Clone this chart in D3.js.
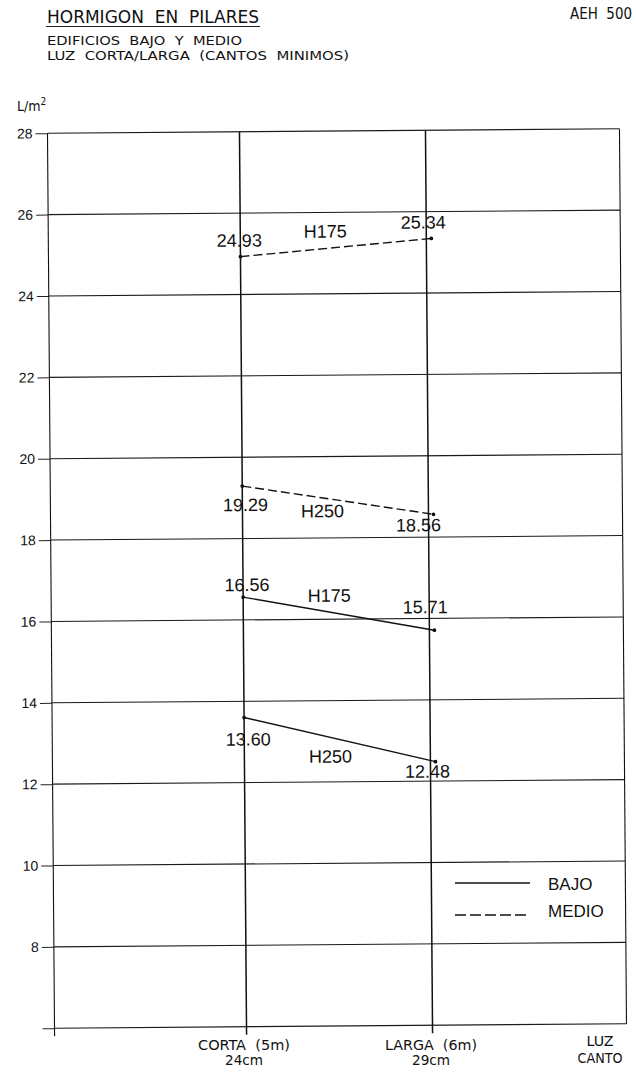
<!DOCTYPE html>
<html>
<head>
<meta charset="utf-8">
<script src="https://cdn.jsdelivr.net/npm/d3@7"></script>
<style>
  body { margin: 0; background: white; }
  svg { display: block; }
  text { white-space: pre; }
  .cad { font-family: "DejaVu Sans Condensed", "Liberation Sans Narrow", "Liberation Sans", sans-serif; }
  .num { font-family: "Liberation Sans", Arial, sans-serif; }
</style>
</head>
<body>
<div id="chart"></div>
<script>
// categories along the x axis
const categories = ["CORTA", "LARGA"];
const catLabels = [["CORTA  (5m)", "24cm"], ["LARGA  (6m)", "29cm"]];
const yTicks = [28, 26, 24, 22, 20, 18, 16, 14, 12, 10, 8];

// series: building type + concrete grade
const seriesType = ["MEDIO", "MEDIO", "BAJO", "BAJO"];
const seriesTag = ["H175", "H250", "H175", "H250"];
const medioH175 = [24.93, 25.34];
const medioH250 = [19.29, 18.56];
const bajoH175 = [16.56, 15.71];
const bajoH250 = [13.60, 12.48];
const allValues = [medioH175, medioH250, bajoH175, bajoH250];

const width = 636, height = 1080;

const svg = d3.select("#chart").append("svg")
    .attr("width", width)
    .attr("height", height);

// helper for the CAD style lettering, stretched to the drawn width
function cadText(g, tx, ty, size, str, len, anchor) {
    const t = g.append("text").attr("class", "cad")
        .attr("x", tx).attr("y", ty)
        .style("font-size", size + "px")
        .attr("fill", "#111")
        .attr("text-anchor", anchor || "start")
        .text(str);
    if (len) t.attr("textLength", len).attr("lengthAdjust", "spacingAndGlyphs");
    return t;
}

// titles
cadText(svg, 47, 23, 17.5, "HORMIGON  EN  PILARES", 212);
svg.append("line")
    .attr("x1", 46).attr("x2", 260).attr("y1", 26.5).attr("y2", 26.5)
    .attr("stroke", "#222").attr("stroke-width", 1);
cadText(svg, 632, 19, 15.5, "AEH  500", 62, "end");
cadText(svg, 47, 45, 12.5, "EDIFICIOS  BAJO  Y  MEDIO", 195);
cadText(svg, 47, 60, 12.5, "LUZ  CORTA/LARGA  (CANTOS  MINIMOS)", 302);

// y unit
const unit = cadText(svg, 17, 111, 14, "L/m");
unit.append("tspan").attr("dy", -6).style("font-size", "10px").text("2");

// the scanned sheet is a little rotated: chart body goes in a rotated group
const g = svg.append("g").attr("transform", "rotate(-0.45,337,580)");

// 0 = axis, 1 = corta, 2 = larga, 3 = right border
const x = d3.scaleLinear().domain([0, 1, 2, 3]).range([51, 243, 429, 623]);
const y = d3.scaleLinear().domain([6, 28]).range([1026, 131]);

// y axis with ticks
const yAxis = d3.axisLeft(y)
    .tickValues(yTicks.concat([6]))
    .tickSize(12)
    .tickPadding(3)
    .tickFormat(d => d === 6 ? "" : d);
g.append("g")
    .attr("transform", "translate(" + x(0) + ",0)")
    .call(yAxis)
    .call(s => s.select(".domain").remove())
    .call(s => s.selectAll("text").attr("class", "num").style("font-size", "14px").attr("fill", "#111"))
    .call(s => s.selectAll("line").attr("stroke", "#222"));

// horizontal grid
g.append("g").selectAll("line")
    .data(yTicks.concat([6]))
    .enter().append("line")
    .attr("x1", x(0))
    .attr("x2", x(3))
    .attr("y1", d => y(d))
    .attr("y2", d => y(d))
    .attr("stroke", "#1a1a1a")
    .attr("stroke-width", 1.1);

// vertical lines
g.append("g").selectAll("line")
    .data([0, 1, 2, 3])
    .enter().append("line")
    .attr("x1", d => x(d))
    .attr("x2", d => x(d))
    .attr("y1", y(28))
    .attr("y2", d => d === 3 ? y(6) : y(6) + 8)
    .attr("stroke", "#111")
    .attr("stroke-width", d => d === 0 || d === 3 ? 1.1 : 1.5);

// series lines, larga point sits just right of the grid line
const px = i => x(i + 1) + (i === 1 ? 5 : 0);
const line = d3.line()
    .x((d, i) => px(i))
    .y(d => y(d));

allValues.forEach(function(vals, k) {
    g.append("path")
        .datum(vals)
        .attr("d", line)
        .attr("fill", "none")
        .attr("stroke", "#111")
        .attr("stroke-width", 1.4)
        .attr("stroke-dasharray", seriesType[k] === "MEDIO" ? "9,4" : null);
    g.selectAll(null)
        .data(vals)
        .enter().append("circle")
        .attr("cx", (d, i) => px(i))
        .attr("cy", d => y(d))
        .attr("r", 1.9)
        .attr("fill", "#111");
});

// label offsets: [corta value, larga value, series tag]
const labelPos = [
    [{dx: -1, dy: -10}, {dx: -3, dy: -10}, {dx: 85, dy: -10}],
    [{dx: 3, dy: 25}, {dx: -10, dy: 17}, {dx: 80, dy: 17}],
    [{dx: 4, dy: -6}, {dx: -4, dy: -17}, {dx: 86, dy: -12}],
    [{dx: 4, dy: 28}, {dx: -3, dy: 16}, {dx: 86, dy: 23}]
];
const lbl = g.append("g").attr("class", "num").style("font-size", "18px").attr("fill", "#111");
allValues.forEach(function(vals, k) {
    const p = labelPos[k];
    lbl.append("text")
        .attr("x", x(1) + p[0].dx).attr("y", y(vals[0]) + p[0].dy)
        .attr("text-anchor", "middle").text(vals[0].toFixed(2));
    lbl.append("text")
        .attr("x", x(2) + p[1].dx).attr("y", y(vals[1]) + p[1].dy)
        .attr("text-anchor", "middle").text(vals[1].toFixed(2));
    lbl.append("text")
        .attr("x", x(1) + p[2].dx).attr("y", y(d3.mean(vals)) + p[2].dy)
        .attr("text-anchor", "middle").text(seriesTag[k]);
});

// x labels
catLabels.forEach(function(l, i) {
    const cx = [244, 431][i];
    cadText(svg, cx, 1050, 14, l[0], 92, "middle");
    cadText(svg, cx, 1065, 14, l[1], 38, "middle");
});
cadText(svg, 600, 1046, 13.5, "LUZ", 27, "middle");
cadText(svg, 600, 1063, 13.5, "CANTO", 45, "middle");

// legend
const legendTypes = ["BAJO", "MEDIO"];
legendTypes.forEach(function(t, i) {
    const ly = 883 + i * 32;
    svg.append("line")
        .attr("x1", 455).attr("x2", 530)
        .attr("y1", ly).attr("y2", ly)
        .attr("stroke", "#111").attr("stroke-width", 1.4)
        .attr("stroke-dasharray", t === "MEDIO" ? "11,4" : null);
    svg.append("text").attr("class", "num")
        .attr("x", 548).attr("y", ly + (i === 0 ? 7 : 2))
        .style("font-size", "17px")
        .attr("fill", "#111")
        .text(t);
});
</script>
</body>
</html>
